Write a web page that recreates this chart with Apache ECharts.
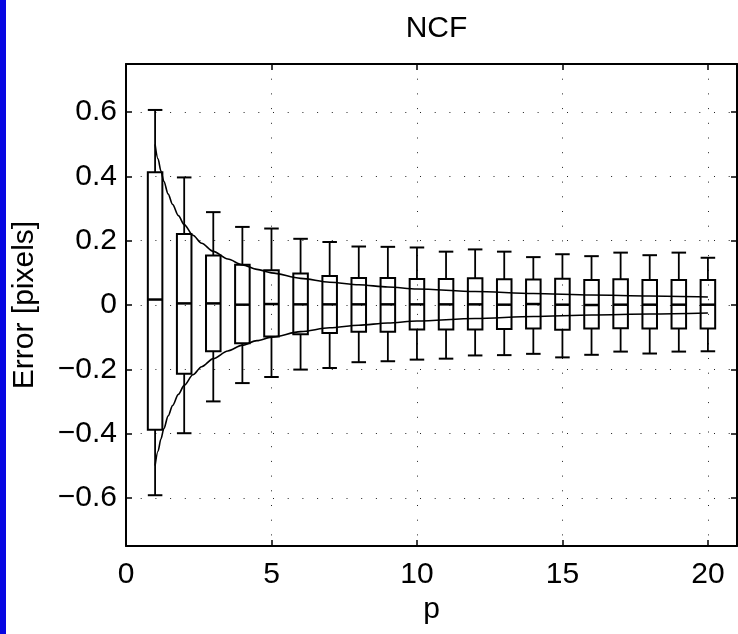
<!DOCTYPE html>
<html>
<head>
<meta charset="utf-8">
<script src="https://cdn.jsdelivr.net/npm/echarts@6/dist/echarts.min.js"></script>
<style>
html,body{margin:0;padding:0;background:#fff;}
#chart{width:738px;height:634px;}
</style>
</head>
<body>
<div id="chart"></div>
<script>
// ---- data ----
const pValues     = [1, 2, 3, 4, 5, 6, 7, 8, 9, 10, 11, 12, 13, 14, 15, 16, 17, 18, 19, 20];
const whiskerHigh = [0.607, 0.397, 0.289, 0.243, 0.238, 0.206, 0.196, 0.182, 0.181, 0.179, 0.166, 0.173, 0.166, 0.149, 0.158, 0.152, 0.163, 0.155, 0.163, 0.147];
const q3          = [0.413, 0.221, 0.154, 0.125, 0.108, 0.098, 0.090, 0.084, 0.084, 0.081, 0.081, 0.083, 0.080, 0.079, 0.082, 0.078, 0.080, 0.078, 0.078, 0.078];
const medians     = [0.017, 0.005, 0.005, 0.001, 0.003, 0.002, 0.002, 0.002, 0.002, 0.002, 0.002, 0.002, 0.001, 0.003, 0.001, 0.000, 0.001, 0.001, 0.001, 0.001];
const q1          = [-0.388, -0.214, -0.144, -0.119, -0.098, -0.091, -0.087, -0.083, -0.083, -0.076, -0.076, -0.076, -0.075, -0.073, -0.077, -0.073, -0.072, -0.073, -0.073, -0.073];
const whiskerLow  = [-0.592, -0.399, -0.300, -0.243, -0.224, -0.201, -0.196, -0.178, -0.175, -0.170, -0.167, -0.157, -0.156, -0.152, -0.163, -0.155, -0.145, -0.151, -0.145, -0.144];

// envelope curves (read at sample positions)
const curveX     = [1, 1.1, 1.2, 1.3, 1.45, 1.6, 1.8, 2, 2.3, 2.6, 3, 3.5, 4, 4.5, 5, 6, 7, 8, 9, 10, 12, 14, 16, 18, 20];
const curveUpper = [0.500, 0.455, 0.417, 0.385, 0.345, 0.313, 0.278, 0.250, 0.217, 0.192, 0.167, 0.143, 0.125, 0.111, 0.100, 0.083, 0.071, 0.063, 0.056, 0.050, 0.042, 0.036, 0.031, 0.028, 0.025];
const curveLower = [-0.500, -0.455, -0.417, -0.385, -0.345, -0.313, -0.278, -0.250, -0.217, -0.192, -0.167, -0.143, -0.125, -0.111, -0.100, -0.083, -0.071, -0.063, -0.056, -0.050, -0.042, -0.036, -0.031, -0.028, -0.025];

const xTicks = [0, 5, 10, 15, 20];
const yTicks = [-0.6, -0.4, -0.2, 0, 0.2, 0.4, 0.6];

const titleText = 'NCF';
const xName = 'p';
const yName = 'Error [pixels]';

// ---- chart ----
const FONT = "'Liberation Sans', Arial, Helvetica, sans-serif";
const FS = 30;
const chart = echarts.init(document.getElementById('chart'), null, {renderer: 'canvas'});

const boxData = pValues.map((p, i) => [p, whiskerLow[i], q1[i], medians[i], q3[i], whiskerHigh[i]]);
const upperData = curveX.map((x, i) => [x, curveUpper[i]]);
const lowerData = curveX.map((x, i) => [x, curveLower[i]]);

const fmtY = v => {
  if (Math.abs(v) < 1e-9) return '0';
  return (v < 0 ? '\u2212' : '') + Math.abs(v).toFixed(1);
};

const axisLineStyle = {color: '#000', width: 2};
const gridDot = {color: '#222', width: 1, type: [1, 13.7]};

const option = {
  backgroundColor: '#fff',
  animation: false,
  title: {
    text: titleText, left: 431.5, top: 9, textAlign: 'center',
    textStyle: {fontFamily: FONT, fontSize: FS, fontWeight: 'normal', color: '#000'}
  },
  graphic: [{
    type: 'rect', left: 0, top: 0, z: 100,
    shape: {width: 6, height: 634},
    style: {fill: '#0606e2'}
  }],
  grid: {left: 126, top: 64, right: 1, bottom: 88, containLabel: false},
  xAxis: [{
    type: 'value', min: 0, max: 21, position: 'bottom',
    name: xName, nameLocation: 'middle', nameGap: 48,
    nameTextStyle: {fontFamily: FONT, fontSize: FS, color: '#000'},
    axisLine: {show: true, onZero: false, lineStyle: axisLineStyle},
    axisTick: {show: true, inside: true, length: 6, customValues: xTicks, lineStyle: {color: '#000', width: 1.5}},
    axisLabel: {show: true, customValues: xTicks, margin: 14, fontFamily: FONT, fontSize: FS, color: '#000'},
    splitLine: {show: true, lineStyle: gridDot}
  }, {
    type: 'value', min: 0, max: 21, position: 'top',
    axisLine: {show: true, onZero: false, lineStyle: axisLineStyle},
    axisTick: {show: true, inside: true, length: 6, customValues: xTicks, lineStyle: {color: '#000', width: 1.5}},
    axisLabel: {show: false},
    splitLine: {show: false}
  }],
  yAxis: [{
    type: 'value', min: -0.75, max: 0.75, position: 'left',
    name: yName, nameLocation: 'middle', nameGap: 86, nameRotate: 90,
    nameTextStyle: {fontFamily: FONT, fontSize: FS, color: '#000'},
    axisLine: {show: true, onZero: false, lineStyle: axisLineStyle},
    axisTick: {show: true, inside: true, length: 6, customValues: yTicks, lineStyle: {color: '#000', width: 1.5}},
    axisLabel: {show: true, customValues: yTicks, margin: 9, fontFamily: FONT, fontSize: FS, color: '#000', formatter: fmtY},
    splitLine: {show: true, lineStyle: gridDot}
  }, {
    type: 'value', min: -0.75, max: 0.75, position: 'right',
    axisLine: {show: true, onZero: false, lineStyle: axisLineStyle},
    axisTick: {show: true, inside: true, length: 6, customValues: yTicks, lineStyle: {color: '#000', width: 1.5}},
    axisLabel: {show: false},
    splitLine: {show: false}
  }],
  series: [{
    type: 'custom',
    xAxisIndex: 0, yAxisIndex: 0,
    data: boxData,
    encode: {x: 0, y: [1, 2, 3, 4, 5]},
    z: 5,
    renderItem: function (params, api) {
      const x = api.value(0);
      const pLo = api.coord([x, api.value(1)]);
      const pQ1 = api.coord([x, api.value(2)]);
      const pMed = api.coord([x, api.value(3)]);
      const pQ3 = api.coord([x, api.value(4)]);
      const pHi = api.coord([x, api.value(5)]);
      const half = api.size([0.5, 0])[0] / 2;
      const cx = pMed[0];
      const stroke = {stroke: '#000', lineWidth: 2, fill: null};
      return {
        type: 'group',
        children: [
          {type: 'line', shape: {x1: cx, y1: pQ3[1], x2: cx, y2: pHi[1]}, style: {stroke: '#000', lineWidth: 1.8}},
          {type: 'line', shape: {x1: cx, y1: pQ1[1], x2: cx, y2: pLo[1]}, style: {stroke: '#000', lineWidth: 1.8}},
          {type: 'line', shape: {x1: cx - half, y1: pHi[1], x2: cx + half, y2: pHi[1]}, style: {stroke: '#000', lineWidth: 2}},
          {type: 'line', shape: {x1: cx - half, y1: pLo[1], x2: cx + half, y2: pLo[1]}, style: {stroke: '#000', lineWidth: 2}},
          {type: 'rect', shape: {x: cx - half, y: pQ3[1], width: half * 2, height: pQ1[1] - pQ3[1]}, style: stroke},
          {type: 'line', shape: {x1: cx - half, y1: pMed[1], x2: cx + half, y2: pMed[1]}, style: {stroke: '#000', lineWidth: 2.5}}
        ]
      };
    }
  }, {
    type: 'line', xAxisIndex: 0, yAxisIndex: 0, data: upperData,
    smooth: 0.3, smoothMonotone: 'x', showSymbol: false, symbol: 'none', z: 6,
    lineStyle: {color: '#000', width: 1.6}
  }, {
    type: 'line', xAxisIndex: 0, yAxisIndex: 0, data: lowerData,
    smooth: 0.3, smoothMonotone: 'x', showSymbol: false, symbol: 'none', z: 6,
    lineStyle: {color: '#000', width: 1.6}
  }]
};
chart.setOption(option);
</script>
</body>
</html>
